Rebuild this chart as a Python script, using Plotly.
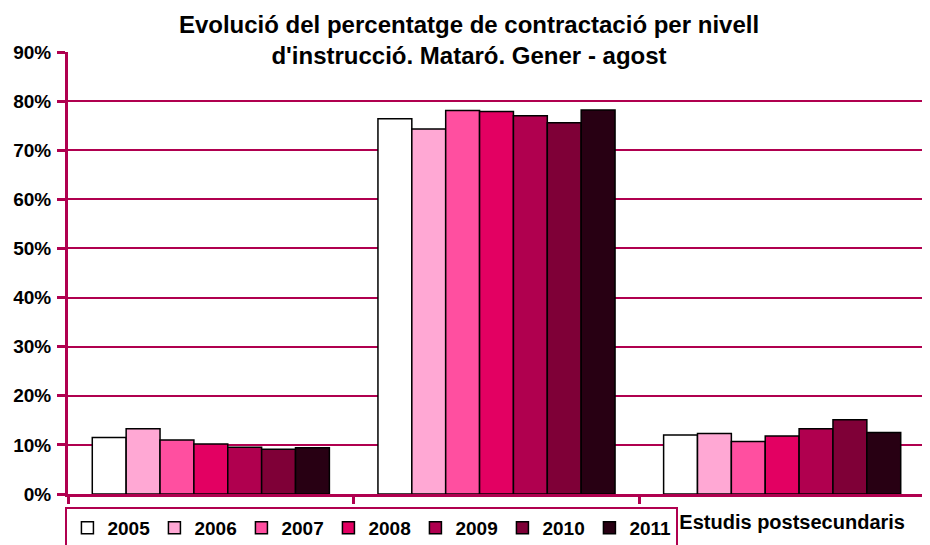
import plotly.graph_objects as go

categories = ["Estudis primaris", "Estudis secundaris", "Estudis postsecundaris"]
# the first two category labels sit behind the legend box in the reference
tick_labels = ["", "", "Estudis postsecundaris"]
years = ["2005", "2006", "2007", "2008", "2009", "2010", "2011"]
values = {
    "2005": [0.115, 0.764, 0.120],
    "2006": [0.133, 0.743, 0.123],
    "2007": [0.110, 0.781, 0.107],
    "2008": [0.102, 0.779, 0.118],
    "2009": [0.095, 0.770, 0.133],
    "2010": [0.091, 0.756, 0.151],
    "2011": [0.094, 0.782, 0.125],
}
colors = ["#FFFFFF", "#FFA8D4", "#FF4FA0", "#E30062", "#B0004F", "#7F0037", "#280013"]

AXIS = "#B0004F"
FONT = "Arial, Liberation Sans, sans-serif"

# the page body adds an 8px offset, so the figure is sized to fill the rest of the window
W, H = 922, 537

fig = go.Figure()
for year, color in zip(years, colors):
    fig.add_trace(go.Bar(
        x=categories,
        y=values[year],
        name=year,
        marker=dict(color=color, line=dict(color="#000000", width=1.5)),
    ))

fig.update_layout(
    width=W,
    height=H,
    barmode="group",
    bargap=0.17,
    bargroupgap=0,
    plot_bgcolor="white",
    paper_bgcolor="white",
    margin=dict(l=60, r=5, t=44, b=51, autoexpand=False),
    font=dict(family=FONT, size=19, color="black", weight="bold"),
    title=dict(
        text="Evolució del percentatge de contractació per nivell<br>d'instrucció. Mataró. Gener - agost",
        x=0.5, xref="container", xanchor="center",
        y=1 - 25 / H, yanchor="top",
        font=dict(size=24, family=FONT, weight="bold"),
    ),
    legend=dict(
        orientation="h",
        x=-0.003, xanchor="left",
        y=-0.029, yanchor="top",
        bgcolor="white",
        bordercolor=AXIS,
        borderwidth=2,
        entrywidth=42,
        entrywidthmode="pixels",
        font=dict(size=19, family=FONT, weight="bold"),
        traceorder="normal",
    ),
    showlegend=True,
)

fig.update_yaxes(
    range=[0, 0.9],
    dtick=0.1,
    tickformat=".0%",
    showgrid=True,
    gridcolor=AXIS,
    gridwidth=2,
    showline=True,
    linecolor=AXIS,
    linewidth=3,
    ticks="outside",
    tickcolor=AXIS,
    tickwidth=3,
    ticklen=8,
    ticklabelstandoff=2,
    tickfont=dict(size=19, family=FONT, weight="bold"),
    zeroline=False,
    fixedrange=True,
)
fig.update_xaxes(
    showline=True,
    linecolor=AXIS,
    linewidth=3,
    ticks="outside",
    tickson="boundaries",
    tickcolor=AXIS,
    tickwidth=3,
    ticklen=7,
    tickmode="array",
    tickvals=categories,
    ticktext=tick_labels,
    tickfont=dict(size=20, family=FONT, weight="bold"),
    ticklabelstandoff=8,
    ticklabelshift=10,
)

fig.write_html("out.html")
